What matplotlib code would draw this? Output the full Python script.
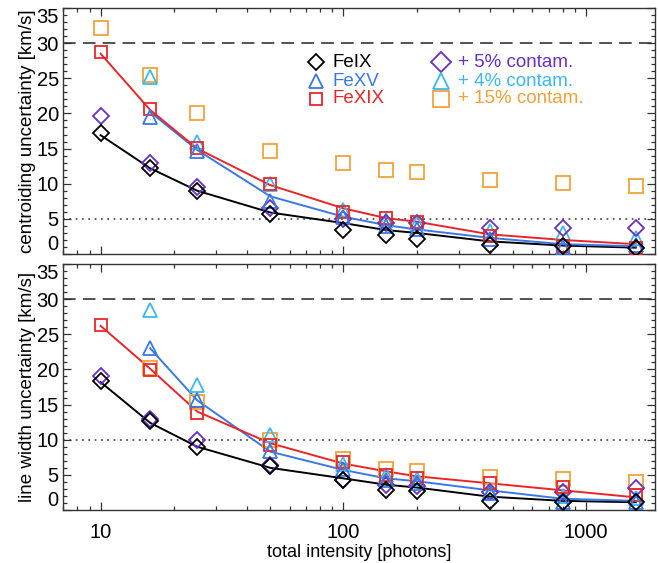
import numpy as np
import matplotlib
matplotlib.use("Agg")
import matplotlib.pyplot as plt

plt.rcParams['font.family'] = ['Liberation Sans', 'DejaVu Sans']

# ---------------- data ----------------
intensity = [10, 16, 25, 50, 100, 150, 200, 400, 800, 1600]
nan = np.nan

# top panel: centroiding uncertainty [km/s]
c_feix      = [17.2, 12.3, 8.9, 5.7, 3.4, 2.7, 2.2, 1.3, 1.1, 0.9]
c_feix_cont = [19.7, 12.9, 9.6, 6.6, 5.0, 4.4, 4.4, 3.7, 3.7, 3.7]
c_fexv      = [nan, 19.5, 14.6, 7.6, 5.3, 4.0, 3.5, 2.2, 1.0, 1.3]
c_fexv_cont = [nan, 25.2, 16.0, 9.9, 6.3, 4.8, 4.4, 3.3, 3.0, 2.3]
c_fexix     = [28.8, 20.6, 15.1, 10.0, 6.0, 5.1, 4.6, 2.6, 1.2, 0.8]
c_fexix_cont= [32.1, 25.5, 20.1, 14.6, 13.0, 11.9, 11.7, 10.5, 10.1, 9.7]
c_fit_feix  = [16.9, 12.2, 9.0, 5.9, 4.4, 3.4, 3.0, 1.8, 1.2, 0.9]
c_fit_fexv  = [nan, 20.2, 14.8, 8.2, 5.3, 4.1, 3.5, 2.3, 1.4, 1.1]
c_fit_fexix = [28.5, 20.5, 15.0, 9.8, 6.5, 5.1, 4.6, 2.8, 2.0, 1.4]

# bottom panel: line width uncertainty [km/s]
w_feix      = [18.3, 12.6, 8.9, 6.3, 4.2, 2.9, 2.7, 1.3, 1.2, 1.1]
w_feix_cont = [19.1, 12.9, 9.9, 6.4, 4.3, 3.6, 3.4, 2.6, 2.6, 3.1]
w_fexv      = [nan, 23.0, 15.6, 8.4, 5.8, 4.3, 3.8, 2.4, 1.2, 1.1]
w_fexv_cont = [nan, 28.4, 17.8, 10.6, 6.6, 5.0, 4.4, 2.5, 2.0, 1.7]
w_fexix     = [26.3, 19.9, 13.8, 9.2, 6.8, 5.0, 4.6, 3.8, 3.3, 2.2]
w_fexix_cont= [nan, 20.2, 15.4, 10.0, 7.3, 5.8, 5.5, 4.7, 4.4, 4.0]
w_fit_feix  = [18.2, 12.4, 9.0, 6.0, 4.5, 3.6, 3.2, 1.9, 1.3, 1.1]
w_fit_fexv  = [nan, 23.0, 15.6, 8.3, 5.7, 4.5, 4.1, 2.8, 1.6, 1.3]
w_fit_fexix = [26.2, 20.1, 14.0, 9.5, 6.6, 5.5, 4.8, 3.8, 2.8, 1.8]

thresh_c = 5
thresh_w = 10
limit = 30

labels_main = ['FeIX', 'FeXV', 'FeXIX']
labels_cont = ['+ 5% contam.', '+ 4% contam.', '+ 15% contam.']

# ---------------- style ----------------
BLACK = '#000000'
BLUE = '#3a78e6'
RED = '#e8262a'
PURPLE = '#6530c4'
CYAN = '#3cb8ee'
ORANGE = '#f2a23a'
MEW = 1.3

W, H = 658, 563
fig = plt.figure(figsize=(W/100, H/100), dpi=100)
left = 63/W
width = 592/W
ax1 = fig.add_axes([left, (H-254)/H, width, 246/H])
ax2 = fig.add_axes([left, (H-510)/H, width, 246/H])

def style(ax):
    ax.set_xscale('log')
    ax.set_xlim(7, 1920)
    ax.set_ylim(0, 35)
    ax.set_yticks(np.arange(0, 36, 5))
    ax.set_yticks(np.arange(0, 36, 1), minor=True)
    ax.tick_params(which='both', direction='in', top=True, right=True,
                   labelsize=14.5, width=0.9, color='#333333')
    ax.tick_params(which='major', length=6)
    ax.tick_params(which='minor', length=3)
    ax.tick_params(axis='y', pad=3)
    ax.tick_params(axis='x', pad=9)
    for s in ax.spines.values():
        s.set_linewidth(1.0)
        s.set_color('#333333')
    ax.xaxis.set_major_formatter(matplotlib.ticker.FuncFormatter(lambda v, p: f'{int(v)}'))
    ax.xaxis.set_minor_formatter(matplotlib.ticker.NullFormatter())
    yt = ax.yaxis.get_major_ticks()
    yt[0].label1.set_verticalalignment('bottom')
    yt[-1].label1.set_verticalalignment('top')

def panel(ax, feix, feix_c, fexv, fexv_c, fexix, fexix_c, f1, f2, f3, thr):
    ax.axhline(limit, color='#444444', lw=1.3, ls=(0, (7, 4)), zorder=1)
    ax.axhline(thr, color='#555555', lw=1.3, ls=(0, (1, 2.5)), zorder=1)
    ax.plot(intensity, f1, color=BLACK, lw=1.4, zorder=2)
    ax.plot(intensity, f2, color=BLUE, lw=1.4, zorder=2)
    ax.plot(intensity, f3, color=RED, lw=1.4, zorder=2)
    kw = dict(ls='none', mfc='none', mew=MEW, zorder=3)
    ax.plot(intensity, fexix_c, marker='s', ms=9.5, mec=ORANGE, **kw)
    ax.plot(intensity, fexv_c, marker='^', ms=10, mec=CYAN, **kw)
    ax.plot(intensity, feix_c, marker='D', ms=8.5, mec=PURPLE, **kw)
    ax.plot(intensity, fexix, marker='s', ms=9, mec=RED, **kw)
    ax.plot(intensity, fexv, marker='^', ms=10, mec=BLUE, **kw)
    ax.plot(intensity, feix, marker='D', ms=8.5, mec=BLACK, **kw)

style(ax1)
style(ax2)
panel(ax1, c_feix, c_feix_cont, c_fexv, c_fexv_cont, c_fexix, c_fexix_cont,
      c_fit_feix, c_fit_fexv, c_fit_fexix, thresh_c)
panel(ax2, w_feix, w_feix_cont, w_fexv, w_fexv_cont, w_fexix, w_fexix_cont,
      w_fit_feix, w_fit_fexv, w_fit_fexix, thresh_w)
ax1.tick_params(axis='x', labelbottom=False)

ax1.set_ylabel('centroiding uncertainty [km/s]', fontsize=13.5, labelpad=0)
ax2.set_ylabel('line width uncertainty [km/s]', fontsize=13.5, labelpad=0)
ax2.set_xlabel('total intensity [photons]', fontsize=13, labelpad=2)

# legend (manual)
rows_y = [0.780, 0.703, 0.632]
mk = ['D', '^', 's']
ms = [8.5, 10, 9]
cols_main = [BLACK, BLUE, RED]
cols_cont = [PURPLE, CYAN, ORANGE]
for i in range(3):
    ax1.plot([0.427], [rows_y[i]], transform=ax1.transAxes, marker=mk[i], ms=ms[i],
             mfc='none', mec=cols_main[i], mew=MEW, ls='none', clip_on=False)
    ax1.text(0.455, rows_y[i], labels_main[i], transform=ax1.transAxes,
             color=cols_main[i], fontsize=13.5, va='center', ha='left')
    ax1.plot([0.639], [rows_y[i]], transform=ax1.transAxes, marker=mk[i], ms=ms[i] + 2,
             mfc='none', mec=cols_cont[i], mew=MEW, ls='none', clip_on=False)
    ax1.text(0.668, rows_y[i], labels_cont[i], transform=ax1.transAxes,
             color=cols_cont[i], fontsize=13.5, va='center', ha='left')

fig.savefig('out.png', dpi=100)
